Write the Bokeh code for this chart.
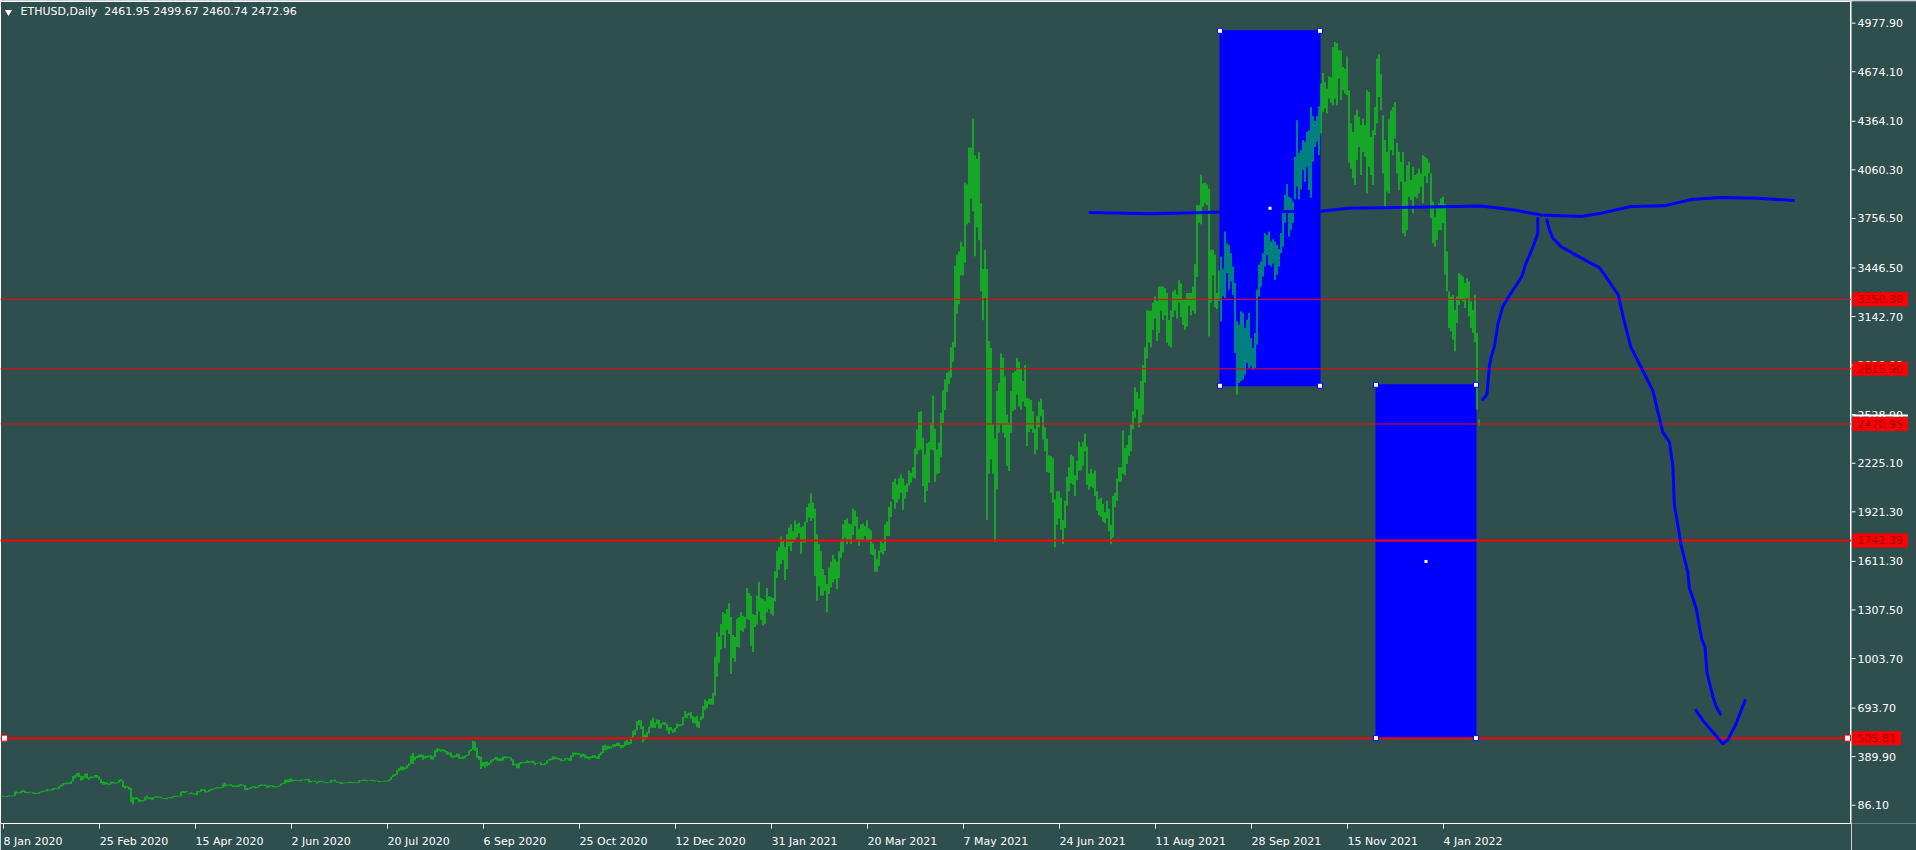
from bokeh.plotting import figure
from bokeh.layouts import row
from bokeh.models import Range1d, FixedTicker, Label
from bokeh.core.properties import value
from bokeh.embed import file_html
from bokeh.resources import INLINE

# ---------------- data ----------------
title_text = "ETHUSD,Daily\u00a0 2461.95 2499.67 2460.74 2472.96"

# daily highs / lows, one bar per trading day from 8 Jan 2020 to 22 Jan 2022
high = [
    # Jan 2020
    147,141,145,148,146,147,171,172,167,175,181,178,169,170,171,168,164,163,168,172,176,178,187,185,
    # Feb 2020
    186,193,195,191,205,215,224,226,229,229,237,268,276,287,289,270,268,283,285,261,267,266,275,275,267,249,234,231,229,
    # Mar 2020
    222,233,233,227,230,245,251,238,209,205,202,195,138,134,136,126,119,119,139,146,136,134,136,142,142,140,140,132,131,134,136,
    # Apr 2020
    137,145,145,146,145,171,175,174,174,161,166,161,160,174,175,188,187,184,174,183,188,190,195,200,199,199,221,227,
    # May 2020
    215,216,217,211,210,210,215,218,215,212,195,193,200,206,204,202,211,217,215,215,210,210,212,210,206,206,210,221,226,245,247,
    # Jun 2020
    249,253,245,246,245,243,246,247,248,251,249,240,239,239,232,238,239,236,233,230,231,245,245,247,236,233,232,228,230,229,
    # Jul 2020
    233,232,230,230,229,242,242,247,247,243,242,243,245,241,241,238,235,237,240,240,246,264,278,281,307,318,329,329,323,337,348,
    # Aug 2020
    395,413,390,395,403,405,401,395,395,397,398,392,430,443,439,436,435,432,424,418,416,397,398,410,409,388,392,397,402,428,438,
    # Sep 2020
    488,485,446,395,391,355,357,359,354,371,375,388,389,379,381,391,393,390,389,385,372,346,346,351,358,357,358,367,362,363,
    # Oct 2020
    365,354,349,355,355,344,351,367,375,379,392,390,385,381,378,370,380,383,380,398,417,415,414,414,407,408,405,393,390,393,
    # Nov 2020
    399,399,391,407,418,459,465,457,458,454,467,468,478,477,462,463,486,495,482,512,552,560,612,620,617,580,530,543,578,617,
    # Dec 2020
    634,602,622,620,598,604,605,594,575,575,561,569,597,592,594,638,674,658,665,668,643,637,645,613,642,707,747,737,753,754,
    # Jan 2021
    789,1014,1168,1140,1220,1293,1282,1313,1350,1263,1151,1139,1253,1263,1293,1270,1263,1445,1413,1397,1282,1276,1397,1484,1383,1376,1366,1445,1394,1388,
    # Feb 2021
    1383,1550,1677,1702,1768,1745,1700,1781,1823,1843,1801,1868,1843,1854,1826,1832,1860,1951,1974,2037,1979,1941,1781,1719,1674,1563,1525,1469,
    # Mar 2021
    1573,1609,1652,1625,1609,1674,1736,1843,1870,1881,1848,1843,1941,1930,1891,1817,1843,1848,1832,1868,1817,1805,1722,1687,1625,1680,1736,1724,1843,1860,1951,
    # Apr 2021
    1985,2107,2129,2093,2130,2156,2130,2087,2100,2180,2166,2201,2318,2437,2545,2551,2385,2281,2350,2358,2478,2648,2441,2311,2355,2540,2681,2750,2790,2800,
    # May 2021
    2950,2985,3460,3530,3550,3610,3580,3980,3970,4200,4200,4380,4150,4130,4170,3850,3440,3560,3440,2990,2946,2470,2380,2676,2728,2911,2884,2769,2530,2478,2676,
    # Jun 2021
    2790,2800,2884,2860,2820,2740,2840,2634,2630,2620,2551,2440,2520,2610,2630,2561,2450,2380,2274,2270,2256,1999,2050,2050,2010,1870,1990,2140,2200,2280,
    # Jul 2021
    2270,2150,2240,2360,2330,2360,2410,2330,2160,2190,2160,2180,2050,2000,2010,1970,1920,1990,1940,1840,2020,2040,2130,2200,2200,2430,2320,2340,2400,2470,2550,
    # Aug 2021
    2700,2670,2630,2740,2840,2950,3180,3180,3180,3230,3270,3240,3330,3330,3330,3320,3290,3120,3180,3300,3310,3280,3370,3350,3250,3250,3290,3290,3290,3330,3470,
    # Sep 2021
    3840,3840,4030,3975,3980,3970,3944,3560,3560,3530,3290,3430,3518,3440,3674,3601,3591,3539,3456,3352,3112,3092,3175,3164,3071,3123,3164,3008,2946,3040,
    # Oct 2021
    3310,3466,3487,3539,3664,3653,3674,3612,3626,3612,3591,3564,3664,3809,3903,3971,3892,3882,3861,4142,4371,4167,4184,4246,4236,4298,4308,4454,4396,4367,4396,
    # Nov 2021
    4458,4600,4666,4610,4568,4645,4640,4828,4860,4853,4808,4808,4704,4693,4770,4558,4350,4298,4402,4437,4392,4340,4381,4340,4558,4548,4267,4308,4454,4756,
    # Dec 2021
    4783,4658,4402,4246,4173,4375,4433,4454,4485,4229,4173,4111,4173,3986,4090,4111,3996,4080,4028,4038,4069,4038,4152,4142,4132,4105,4038,3861,3768,3830,
    # Jan 2022
    3851,3882,3892,3847,3549,3300,3268,3279,3185,3268,3414,3404,3393,3352,3383,3362,3237,3185,3279,3040,2499.67,
]
low = [
    # Jan 2020
    139,137,136,141,141,142,143,160,159,162,168,162,162,164,166,159,156,157,158,166,168,172,173,176,
    # Feb 2020
    179,180,186,185,188,201,208,217,220,218,219,235,254,265,262,240,246,258,254,247,255,257,260,259,246,223,215,215,217,
    # Mar 2020
    212,216,222,220,223,227,236,199,189,196,184,105,90,122,123,106,108,111,116,127,126,121,120,133,132,133,130,126,124,124,130,
    # Apr 2020
    128,134,138,139,140,142,163,162,167,155,156,154,151,148,167,170,177,166,167,170,177,182,187,192,192,192,196,203,
    # May 2020
    205,209,205,200,202,200,201,208,209,180,180,185,188,197,192,194,199,206,208,205,195,197,205,199,198,200,202,208,217,220,229,
    # Jun 2020
    230,232,236,238,239,238,236,242,240,242,228,229,235,232,221,229,231,230,226,224,227,227,240,233,228,227,219,220,224,224,
    # Jul 2020
    225,225,224,226,224,227,237,238,239,236,238,237,237,235,237,230,231,232,234,235,235,244,262,269,277,299,306,304,310,316,330,
    # Aug 2020
    345,345,367,381,385,385,370,377,383,386,373,371,387,418,426,421,425,417,402,403,388,381,386,388,376,378,375,380,393,398,423,
    # Sep 2020
    433,426,382,370,313,330,320,332,336,349,360,371,365,363,361,365,379,380,382,366,334,336,318,317,344,350,349,350,350,354,
    # Oct 2020
    350,337,343,349,336,336,336,347,364,368,372,374,374,370,361,363,366,373,364,364,390,401,403,402,385,390,380,377,372,380,
    # Nov 2020
    382,381,377,377,399,413,430,433,438,441,448,451,456,455,443,446,457,463,465,470,508,525,554,586,563,480,496,505,535,572,
    # Dec 2020
    570,570,592,566,566,591,586,552,532,553,538,545,566,580,580,586,633,631,648,627,600,597,574,569,617,629,682,693,718,716,
    # Jan 2021
    716,771,891,978,1060,1151,1069,1184,1157,907,1007,984,1076,1073,1178,1170,1193,1250,1245,1084,1044,1201,1216,1297,1246,1210,1220,1293,1314,1282,
    # Feb 2021
    1272,1360,1507,1559,1594,1620,1494,1563,1707,1676,1729,1739,1762,1787,1658,1729,1729,1854,1885,1864,1881,1521,1365,1455,1397,1397,1427,1293,
    # Mar 2021
    1407,1449,1480,1500,1438,1507,1632,1667,1760,1719,1750,1719,1775,1832,1739,1707,1736,1743,1770,1737,1736,1655,1649,1546,1546,1584,1667,1655,1676,1770,1770,
    # Apr 2021
    1889,2000,1941,1979,2000,2041,1935,2004,2045,2087,2104,2135,2130,2281,2307,2311,2083,1979,2052,2104,2311,2307,2108,2156,2163,2263,2477,2557,2670,2720,
    # May 2021
    2760,2860,2950,3160,3220,3400,3400,3480,3720,3730,3880,3800,3520,3700,3620,3300,3120,3260,1871,2160,2249,2160,1733,2062,2416,2468,2416,2385,2208,2176,2416,
    # Jun 2021
    2551,2560,2655,2580,2560,2610,2580,2333,2420,2440,2416,2280,2310,2450,2520,2374,2300,2170,2166,2040,1979,1698,1840,1880,1810,1720,1820,1960,2050,2100,
    # Jul 2021
    2090,2020,2120,2180,2180,2210,2300,2090,2060,2080,2070,2020,1930,1900,1890,1860,1850,1880,1800,1719,1760,1950,1990,2110,2110,2160,2150,2220,2270,2300,2440,
    # Aug 2021
    2510,2560,2450,2480,2530,2730,2880,2980,2950,3060,3130,2990,3040,3180,3120,3150,2980,2960,2950,3140,3180,3130,3230,3140,3090,3060,3080,3210,3150,3180,3160,
    # Sep 2021
    3390,3730,3720,3830,3850,3840,3019,3230,3400,3200,3190,3240,3112,3270,3258,3414,3310,3362,3279,2915,2655,2728,2738,2748,2780,2852,2821,2832,2811,2821,
    # Oct 2021
    2967,3268,3331,3393,3456,3528,3466,3456,3476,3372,3404,3456,3539,3580,3730,3788,3643,3684,3730,3876,3955,3876,3938,4059,3986,4080,3934,3886,4111,4204,4236,
    # Nov 2021
    4152,4288,4423,4444,4412,4506,4480,4464,4506,4464,4631,4496,4558,4537,4527,4105,4069,4007,3965,4121,4204,4028,4173,4142,3913,4080,4028,3965,4277,4350,
    # Dec 2021
    4516,4433,4038,3830,3924,3913,4184,4152,4256,4038,3934,3986,3664,3643,3684,3892,3872,3788,3892,3882,3913,3955,3851,4021,3976,4038,3757,3601,3580,3622,
    # Jan 2022
    3684,3684,3726,3404,3300,3071,3050,2998,2925,3102,3216,3248,3237,3196,3258,3144,3071,3040,2982,2561,2460.74,
]

# time axis: bar index of each date label
tick_bars = [0, 48, 96, 144, 192, 240, 288, 336, 384, 432, 480, 528, 576, 624, 672, 720]
tick_labels = ["8 Jan 2020", "25 Feb 2020", "15 Apr 2020", "2 Jun 2020", "20 Jul 2020",
               "6 Sep 2020", "25 Oct 2020", "12 Dec 2020", "31 Jan 2021", "20 Mar 2021",
               "7 May 2021", "24 Jun 2021", "11 Aug 2021", "28 Sep 2021", "15 Nov 2021",
               "4 Jan 2022"]

# price scale ticks
price_ticks = [4977.90, 4674.10, 4364.10, 4060.30, 3756.50, 3446.50, 3142.70, 2838.90,
               2528.90, 2225.10, 1921.30, 1611.30, 1307.50, 1003.70, 693.70, 389.90, 86.10]

# horizontal price levels
levels = [3250.30, 2815.90, 2470.95, 1742.39, 505.81]
level_widths = [1, 1, 1, 2, 2]

# blue rectangles (bar index / price)
rect_left = [608.5, 686.5]
rect_right = [658.5, 736.5]
rect_top = [4930.0, 2716.0]
rect_bottom = [2710.0, 505.81]

# hand-drawn blue curves (bar index / price)
curve1_x = [543.4, 573.3, 600.8, 608.5, 658.7, 672.4, 705.7, 739.0, 755.7, 769.0, 789.0,
            799.0, 814.0, 830.7, 844.0, 859.0, 877.4, 895.2]
curve1_y = [3793, 3786, 3793, 3797, 3801, 3820, 3826, 3834, 3809, 3778, 3769,
            3789, 3831, 3835, 3875, 3888, 3883, 3868]
curve2_x = [739.9, 742.0, 743.2, 744.0, 745.7, 747.4, 749.9, 752.4, 755.7, 759.4, 761.5,
            763.7, 765.7, 767.4, 767.4]
curve2_y = [2624, 2655, 2832, 2884, 2956, 3092, 3206, 3258, 3321, 3393, 3477,
            3539, 3602, 3664, 3758]
curve3_x = [771.9, 773.2, 774.9, 779.0, 789.0, 798.2, 800.7, 807.7, 810.4, 814.0, 819.0,
            824.9, 829.9, 833.2, 834.9, 835.7, 837.4, 839.0, 842.4, 843.2, 846.5, 849.4,
            851.0, 852.0, 854.9, 856.5, 858.7]
curve3_y = [3747, 3685, 3633, 3580, 3510, 3449, 3406, 3276, 3123, 2950, 2827,
            2679, 2420, 2358, 2210, 1963, 1840, 1717, 1544, 1445, 1322, 1124,
            1075, 915, 767, 705, 656]
arrow_x = [846.5, 849.9, 854.0, 859.9, 862.4, 866.5, 871.0]
arrow_y = [680, 618, 557, 471, 495, 594, 742]

# ---------------- styling / layout ----------------
BG = "#2f4f4f"
BAR = "#00ff00"
BLUE = "#0000ff"
RED = "#ff0000"
TAG_TEXT = "#990000"
FONT = "DejaVu Sans"
FS = "11px"

FW, FH = 1851, 824          # chart frame
TOP, BOTTOM = 1, 25
SCALE_W = 65                # price scale column
PXB = 2.0                   # pixels per bar
X0 = -1.25
X1 = X0 + FW / PXB
Y0, Y1 = -28.1, 5113.3
PY = FH / (Y1 - Y0)         # pixels per price unit

# DejaVu Sans advance widths (em) to left-align date labels on their ticks
EM = {' ': 0.318, '.': 0.318, 'J': 0.295, 'a': 0.613, 'n': 0.634, 'F': 0.575, 'e': 0.615,
      'b': 0.635, 'A': 0.684, 'p': 0.635, 'r': 0.411, 'u': 0.634, 'l': 0.278, 'S': 0.635,
      'O': 0.787, 'c': 0.550, 't': 0.392, 'N': 0.748, 'o': 0.612, 'v': 0.592, 'D': 0.770,
      'M': 0.863, 'y': 0.592, 'g': 0.635}


def text_px(s):
    return sum(EM.get(ch, 0.636) for ch in s) * 11


def dx(px):
    return X0 + px / PXB


def dy(py):
    return Y1 - py / PY


p = figure(width=FW, height=FH + TOP + BOTTOM,
           x_range=Range1d(X0, X1), y_range=Range1d(Y0, Y1),
           y_axis_location=None, x_axis_location="below", title=None,
           output_backend="svg", toolbar_location=None,
           min_border_left=0, min_border_right=0,
           min_border_top=TOP, min_border_bottom=BOTTOM,
           background_fill_color=BG, border_fill_color=BG,
           outline_line_color="white", outline_line_width=1)
p.grid.visible = False

# date axis: tick marks as (minor) ticks at the bars, labels left aligned from them
label_pos = []
for tb, lab in zip(tick_bars, tick_labels):
    start = max(tb, X0 + 0.5)
    label_pos.append(round(start + (text_px(lab) / 2 + 0.5) / PXB, 3))

xax = p.xaxis[0]
xax.ticker = FixedTicker(ticks=label_pos, minor_ticks=tick_bars)
xax.major_label_overrides = {pos: lab for pos, lab in zip(label_pos, tick_labels)}
xax.major_tick_line_color = None
xax.major_tick_in = 0
xax.major_tick_out = 0
xax.minor_tick_in = 0
xax.minor_tick_out = 5
xax.minor_tick_line_color = "white"
xax.axis_line_color = "white"
xax.major_label_standoff = 6
xax.major_label_text_color = "white"
xax.major_label_text_font = FONT
xax.major_label_text_font_size = FS

# rectangles (background objects)
p.quad(left=rect_left, right=rect_right, top=rect_top, bottom=rect_bottom,
       fill_color=BLUE, line_color=BLUE, line_width=1)

# price bars
n = min(len(high), len(low))
bar_x = list(range(n))
p.segment(x0=bar_x, y0=low[:n], x1=bar_x, y1=high[:n], line_color=BAR, line_width=1)

# horizontal levels
p.segment(x0=[X0] * len(levels), x1=[X1] * len(levels), y0=levels, y1=levels,
          line_color=RED, line_width=level_widths)

# hand drawn curves
for cx, cy in ((curve1_x, curve1_y), (curve2_x, curve2_y), (curve3_x, curve3_y), (arrow_x, arrow_y)):
    p.line(cx, cy, line_color=BLUE, line_width=3, line_join="round", line_cap="round")

# rectangle anchor points
cxs, cys, mxs, mys = [], [], [], []
for l, r, t, b in zip(rect_left, rect_right, rect_top, rect_bottom):
    cxs += [l, r, l, r]
    cys += [t, t, b, b]
    mxs.append((l + r) / 2)
    mys.append((t + b) / 2)
p.scatter(cxs, cys, marker="square", size=5, fill_color="white", line_color=BLUE, line_width=1)
p.scatter(mxs, mys, marker="square", size=3, fill_color="white", line_color=None)

# anchors of the selected 505.81 line
p.scatter([X0 + 2.0, X1 - 2.0], [levels[-1], levels[-1]], marker="square", size=6,
          fill_color="white", line_color=RED, line_width=1)

# header
p.scatter([dx(8)], [dy(10.5)], marker="inverted_triangle", size=7, fill_color="white", line_color=None)
p.add_layout(Label(x=dx(20), y=dy(4), text=title_text, text_color="white",
                   text_font=FONT, text_font_size=FS, text_align="left", text_baseline="top"))

# ---------------- price scale column ----------------
s = figure(width=SCALE_W, height=FH + TOP + BOTTOM,
           x_range=Range1d(0, SCALE_W), y_range=p.y_range,
           x_axis_location=None, y_axis_location=None, title=None,
           output_backend="svg", toolbar_location=None,
           min_border_left=0, min_border_right=0,
           min_border_top=TOP, min_border_bottom=BOTTOM,
           background_fill_color=BG, border_fill_color=BG, outline_line_color=None)
s.grid.visible = False

s.segment(x0=[0] * len(price_ticks), x1=[4] * len(price_ticks), y0=price_ticks, y1=price_ticks,
          line_color="white", line_width=1)
s.text(x=[6] * len(price_ticks), y=price_ticks, text=[f"{t:.2f}" for t in price_ticks],
       text_color="white", text_font=value(FONT), text_font_size=value(FS),
       text_align="left", text_baseline="middle")

tag_txt = [f"{lv:.2f}" for lv in levels]
tag_w = [text_px(t) + 10 for t in tag_txt]
# white strip above the current-price tag
cur = levels[2]
s.rect(x=[1 + tag_w[2] / 2], y=[cur + 8.5 / PY], width=[tag_w[2]], height=2,
       height_units="screen", fill_color="white", line_color=None)
s.rect(x=[1 + w / 2 for w in tag_w], y=levels, width=tag_w, height=14,
       height_units="screen", fill_color=RED, line_color=None)
s.text(x=[6] * len(levels), y=levels, text=tag_txt, text_color=TAG_TEXT,
       text_font=value(FONT), text_font_size=value(FS), text_align="left", text_baseline="middle")

layout = row(p, s, spacing=0)
open("out.html", "w").write(file_html(layout, INLINE))
